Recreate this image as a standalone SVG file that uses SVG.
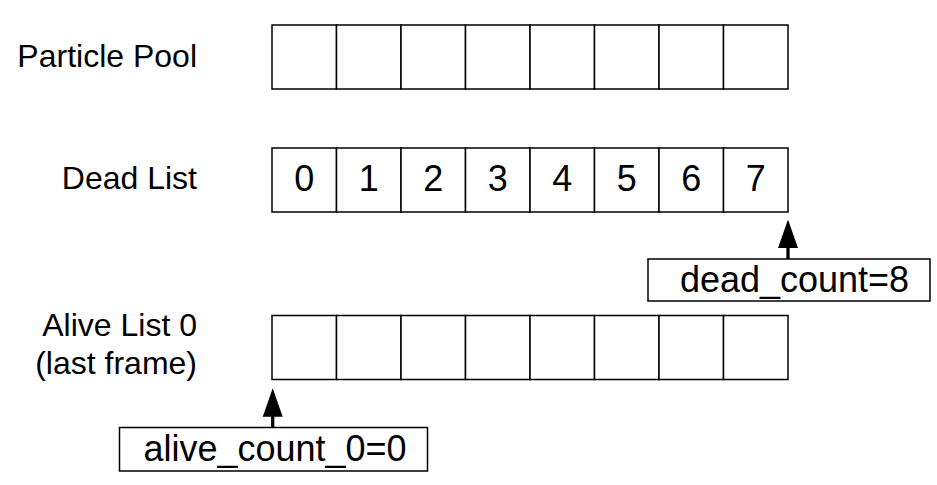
<svg xmlns="http://www.w3.org/2000/svg" width="937" height="485" viewBox="0 0 937 485">
<style>
.cell{fill:#fff;stroke:#000;stroke-width:1.5}
.lbl{font-family:"Liberation Sans",Arial,sans-serif;font-size:32px;fill:#000;text-anchor:end}
.num{font-family:"Liberation Sans",Arial,sans-serif;font-size:36px;fill:#000;text-anchor:middle}
.cnt{font-family:"Liberation Sans",Arial,sans-serif;font-size:36px;fill:#000;text-anchor:middle}
.conn{stroke:#000;stroke-width:3.3;fill:none}
.head{fill:#000}
</style>
<defs>
<g id="row8">
<rect class="cell" x="0" y="0" width="64.5" height="64"/>
<rect class="cell" x="64.5" y="0" width="64.5" height="64"/>
<rect class="cell" x="129" y="0" width="64.5" height="64"/>
<rect class="cell" x="193.5" y="0" width="64.5" height="64"/>
<rect class="cell" x="258" y="0" width="64.5" height="64"/>
<rect class="cell" x="322.5" y="0" width="64.5" height="64"/>
<rect class="cell" x="387" y="0" width="64.5" height="64"/>
<rect class="cell" x="451.5" y="0" width="64.5" height="64"/>
</g>
</defs>
<rect width="937" height="485" fill="#fff"/>
<g id="particle-pool">
<text class="lbl" x="197" y="67">Particle Pool</text>
<use href="#row8" x="272" y="25"/>
</g>
<g id="dead-list">
<text class="lbl" x="197" y="189">Dead List</text>
<use href="#row8" x="272" y="148"/>
<text class="num" x="304.25" y="191">0</text>
<text class="num" x="368.75" y="191">1</text>
<text class="num" x="433.25" y="191">2</text>
<text class="num" x="497.75" y="191">3</text>
<text class="num" x="562.25" y="191">4</text>
<text class="num" x="626.75" y="191">5</text>
<text class="num" x="691.25" y="191">6</text>
<text class="num" x="755.75" y="191">7</text>
</g>
<g id="alive-list-0">
<text class="lbl" x="197" y="336">Alive List 0</text>
<text class="lbl" x="197" y="374">(last frame)</text>
<use href="#row8" x="272" y="315.5"/>
</g>
<g id="dead-count">
<rect class="cell" x="648" y="259" width="282" height="42"/>
<text class="cnt" x="794.5" y="292">dead_count=8</text>
</g>
<g id="alive-count">
<rect class="cell" x="119.5" y="427.5" width="308" height="43.5"/>
<text class="cnt" x="275" y="461">alive_count_0=0</text>
</g>
<g id="connectors">
<line class="conn" x1="788" y1="259" x2="788" y2="246"/>
<polygon class="head" points="788,219.5 778,248 798,248"/>
<line class="conn" x1="272.7" y1="427.5" x2="272.7" y2="415"/>
<polygon class="head" points="272.7,388.3 262.7,416.7 282.7,416.7"/>
</g>
</svg>
